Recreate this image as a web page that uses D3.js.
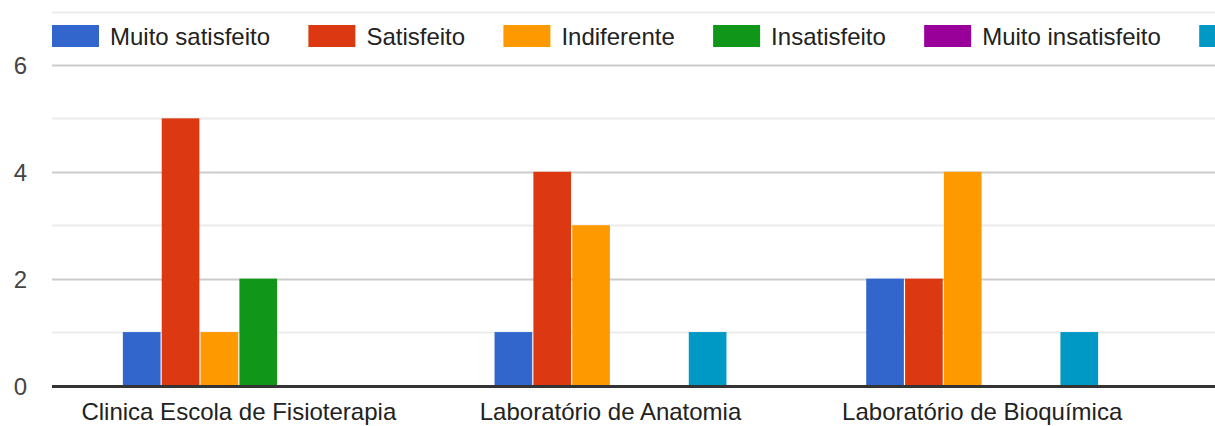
<!DOCTYPE html>
<html><head><meta charset="utf-8">
<script src="https://cdn.jsdelivr.net/npm/d3@7"></script>
<style>html,body{margin:0;padding:0;background:#fff;overflow:hidden}svg{display:block}</style>
</head><body>
<svg id="c" width="1215" height="426"></svg>
<script>
const categories = ["Clinica Escola de Fisioterapia", "Laboratório de Anatomia", "Laboratório de Bioquímica"];
const seriesNames = ["Muito satisfeito", "Satisfeito", "Indiferente", "Insatisfeito", "Muito insatisfeito", "Não utilizo"];
const seriesColors = ["#3366cc", "#dc3912", "#ff9900", "#109618", "#990099", "#0099c6"];
const muitoSatisfeito = [1, 1, 2];
const satisfeito = [5, 4, 2];
const indiferente = [1, 3, 4];
const insatisfeito = [2, 0, 0];
const muitoInsatisfeito = [0, 0, 0];
const naoUtilizo = [0, 1, 1];
const yTicks = [0, 1, 2, 3, 4, 5, 6, 7];
const yLabels = [0, 2, 4, 6];

const seriesValues = [muitoSatisfeito, satisfeito, indiferente, insatisfeito, muitoInsatisfeito, naoUtilizo];

const svg = d3.select("#c");
const font = "'Liberation Sans', Arial, sans-serif";
const left = 52, right = 1215, plotRight = 1168;
const y = d3.scaleLinear().domain([0, 7]).range([385.5, 11.5]);
const x0 = d3.scaleBand().domain(categories).range([53, plotRight]).paddingInner(0.376).paddingOuter(0.188);
const x1 = d3.scaleBand().domain(d3.range(seriesNames.length)).range([0, x0.bandwidth()]).paddingInner(0.03).paddingOuter(0);

// gridlines
svg.append("g").selectAll("line").data(yTicks.filter(t => t > 0)).join("line")
  .attr("x1", left).attr("x2", right)
  .attr("y1", d => Math.round(y(d)) + 0.5).attr("y2", d => Math.round(y(d)) + 0.5)
  .attr("stroke", d => d % 2 === 0 ? "#cccccc" : "#ebebeb")
  .attr("stroke-width", 2);

// y labels via axis
const yAxis = d3.axisLeft(y).tickValues(yLabels).tickSize(0).tickPadding(0).tickFormat(d3.format("d"));
const ya = svg.append("g").attr("transform", "translate(27,0)").call(yAxis);
ya.select(".domain").remove();
ya.selectAll("text").attr("font-family", font).attr("font-size", 24).attr("fill", "#444").attr("dy", "0.36em");

// bars
const groups = svg.append("g").selectAll("g").data(categories).join("g")
  .attr("transform", d => `translate(${x0(d)},0)`);
groups.selectAll("rect").data((d, ci) => seriesValues.map((vals, si) => ({si, v: vals[ci]})).filter(e => e.v > 0))
  .join("rect")
  .attr("x", d => x1(d.si))
  .attr("width", x1.bandwidth())
  .attr("y", d => y(d.v))
  .attr("height", d => y(0) - y(d.v))
  .attr("fill", d => seriesColors[d.si]);

// baseline
svg.append("line").attr("x1", left).attr("x2", right).attr("y1", y(0)+1).attr("y2", y(0)+1)
  .attr("stroke", "#333").attr("stroke-width", 3);

// x labels via axis
const xAxis = d3.axisBottom(x0).tickSize(0).tickPadding(0);
const xa = svg.append("g").attr("transform", "translate(0,420)").call(xAxis);
xa.select(".domain").remove();
xa.selectAll("text").attr("font-family", font).attr("font-size", 24).attr("fill", "#222").attr("dy", 0);

// legend
const lg = svg.append("g");
let lx = 52;
seriesNames.forEach((name, i) => {
  lg.append("rect").attr("x", lx).attr("y", 25).attr("width", 47).attr("height", 22).attr("fill", seriesColors[i]);
  const t = lg.append("text").attr("x", lx + 58).attr("y", 45).attr("font-family", font).attr("font-size", 24).attr("fill", "#222").text(name);
  lx = lx + 58 + t.node().getComputedTextLength() + 38.3;
});
</script>
</body></html>
